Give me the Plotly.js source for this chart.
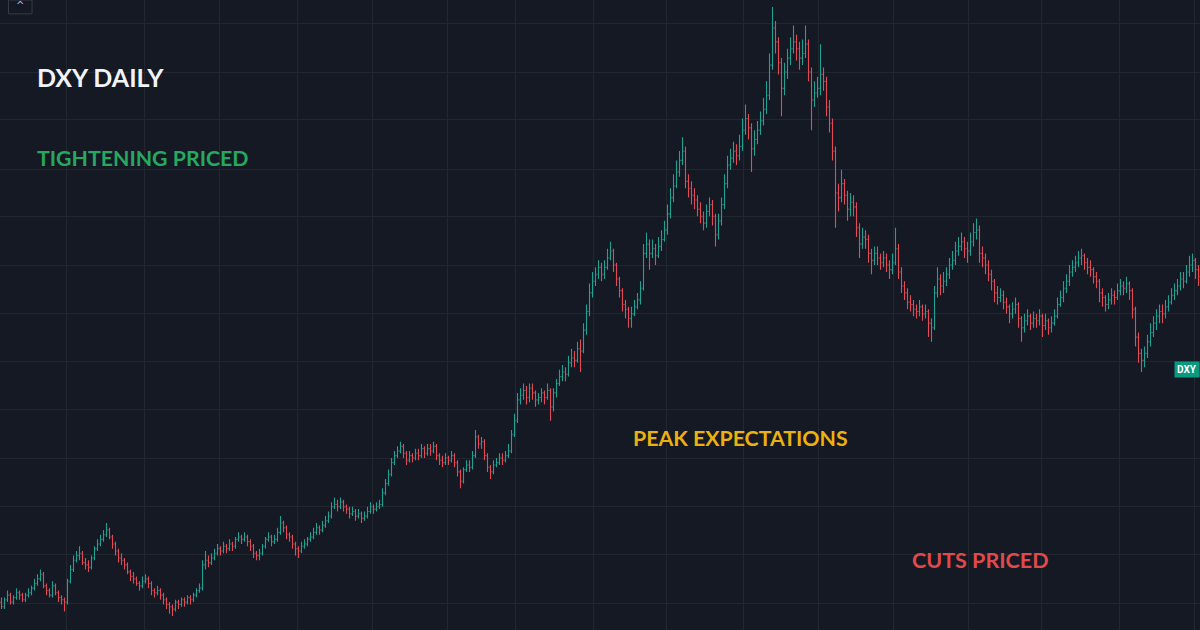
<!DOCTYPE html>
<html>
<head>
<meta charset="utf-8">
<script src="https://cdn.plot.ly/plotly-3.0.1.min.js"></script>
<style>
html,body{margin:0;padding:0;background:#151924;}
#chart{width:1200px;height:630px;}
</style>
</head>
<body>
<div id="chart"></div>
<script>
// DXY daily OHLC
const openPrices = [
89.2,89.0,89.3,89.5,89.2,89.4,89.6,89.5,89.3,89.5,
89.6,89.8,90.0,90.2,90.4,89.9,89.7,89.5,89.9,89.6,
89.4,89.3,89.2,90.1,90.6,91.0,91.2,91.3,90.9,90.8,
90.7,91.1,91.5,91.7,91.9,92.1,92.3,92.0,91.7,91.4,
91.1,91.0,90.8,90.5,90.3,90.2,90.0,89.9,90.1,90.2,
90.0,89.7,89.6,89.7,89.5,89.3,89.1,89.0,88.9,89.2,
89.1,89.3,89.2,89.4,89.3,89.5,89.7,
89.8,90.8,91.0,
90.9,91.1,91.3,91.5,91.4,91.6,91.5,91.7,91.6,91.9,
92.0,91.9,92.0,91.8,91.6,91.3,91.2,91.3,91.6,91.9,
92.0,91.8,91.9,92.2,92.6,92.4,92.1,92.0,91.7,91.5,
91.4,91.6,91.7,91.9,92.0,92.2,92.4,92.3,92.5,92.7,
92.9,93.3,93.4,93.3,93.5,93.3,93.2,93.0,93.1,92.9,
93.0,92.8,92.9,93.1,93.3,93.2,93.3,93.4,93.9,94.3,
94.7,95.2,95.5,95.7,
95.9,95.6,95.3,95.5,95.4,95.6,
95.5,95.8,95.6,95.8,95.7,95.9,95.5,95.3,95.2,95.4,
95.3,95.5,95.2,94.8,94.4,94.9,95.1,95.0,95.5,96.3,
96.0,96.1,95.5,95.0,94.8,95.1,95.2,95.4,95.3,95.5,
95.7,96.4,97.0,97.9,98.1,98.3,98.0,98.4,98.2,97.9,
98.0,98.2,98.0,98.3,97.6,98.2,98.6,98.9,99.1,99.0,
99.5,99.7,99.6,100.1,100.0,100.9,101.7,102.5,103.0,103.3,
103.6,103.3,103.6,104.0,104.3,103.7,103.1,102.6,102.0,101.8,
101.4,101.6,101.9,102.2,102.7,104.2,104.6,104.2,104.4,104.1,
104.5,104.8,105.2,105.9,106.6,107.1,107.7,108.2,108.6,107.3,
107.0,106.7,106.5,106.1,105.8,105.5,106.0,106.3,105.8,105.0,
105.6,106.3,107.2,108.0,108.3,108.6,108.4,108.8,109.5,110.0,
109.6,108.7,109.1,109.5,109.9,110.4,111.0,112.3,113.9,113.3,
112.4,111.3,112.0,112.6,113.0,113.3,113.0,
112.6,112.8,113.2,
112.0,110.8,111.1,111.3,111.9,111.6,110.5,109.8,108.6,106.8,
106.6,107.2,106.7,106.1,106.4,106.2,105.3,104.6,104.9,104.8,
104.2,103.9,104.2,104.0,103.8,104.0,103.7,103.5,103.8,104.4,
103.4,102.8,102.5,102.1,102.0,101.8,101.7,101.9,101.6,101.7,
101.2,101.0,102.5,103.1,102.8,103.0,103.3,103.7,103.9,104.3,
104.5,104.7,104.4,104.3,104.7,105.1,105.2,104.2,104.0,103.7,
103.3,103.0,102.5,102.3,
102.4,102.1,101.9,101.6,101.8,102.0,
101.4,101.0,101.3,101.5,101.2,101.4,101.3,101.5,101.1,101.3,
101.0,101.2,101.5,102.0,102.3,102.7,103.0,103.4,103.6,103.8,
104.0,104.1,103.8,103.6,103.5,103.2,103.0,102.5,102.3,102.0,
102.2,102.4,102.3,102.6,102.8,102.7,102.9,102.6,101.8,100.6,
99.9,99.6,99.9,100.4,100.8,101.2,101.5,101.7,101.6,101.9,
102.1,102.4,102.6,102.8,103.1,103.0,103.4,103.7,103.9,103.5
];
const highPrices = [
89.4,89.4,89.7,89.6,89.5,89.8,89.7,89.6,89.6,89.8,
89.9,90.2,90.4,90.6,90.5,90.0,89.8,90.1,90.0,89.7,
89.5,89.4,90.2,90.8,91.2,91.4,91.6,91.4,91.1,91.0,
91.2,91.6,91.9,92.1,92.3,92.6,92.4,92.1,91.8,91.5,
91.3,91.1,90.9,90.6,90.5,90.3,90.1,90.3,90.4,90.3,
90.1,89.8,89.9,89.8,89.6,89.4,89.2,89.1,89.3,89.3,
89.4,89.4,89.5,89.5,89.6,89.8,90.0,
91.0,91.4,91.2,
91.3,91.5,91.7,91.6,91.8,91.7,91.9,91.8,92.0,92.2,
92.1,92.2,92.1,91.9,91.7,91.4,91.5,91.7,92.0,92.2,
92.1,92.1,92.4,92.9,92.7,92.5,92.2,92.1,91.8,91.6,
91.8,91.9,92.0,92.2,92.4,92.6,92.5,92.7,92.9,93.1,
93.5,93.7,93.6,93.7,93.6,93.4,93.3,93.3,93.2,93.2,
93.1,93.1,93.3,93.5,93.4,93.5,93.6,94.1,94.5,94.9,
95.4,95.7,95.9,96.1,
96.0,95.7,95.7,95.6,95.8,95.8,
96.0,95.9,96.0,96.0,96.1,96.0,95.6,95.5,95.6,95.5,
95.7,95.6,95.3,94.9,95.0,95.3,95.3,95.7,96.6,96.4,
96.3,96.2,95.6,95.1,95.3,95.4,95.6,95.6,95.7,96.0,
96.6,97.3,98.2,98.4,98.6,98.5,98.6,98.6,98.3,98.2,
98.4,98.3,98.6,98.4,98.4,98.8,99.2,99.4,99.3,99.8,
100.1,100.0,100.4,100.5,101.2,102.0,102.9,103.4,103.6,103.9,
103.8,103.9,104.4,104.7,104.4,103.8,103.2,102.7,102.2,101.9,
101.9,102.2,102.5,103.0,104.6,105.1,104.8,104.8,104.6,104.9,
105.2,105.6,106.3,107.0,107.6,108.2,108.6,109.2,108.8,107.6,
107.3,107.0,106.7,106.4,106.0,106.3,106.6,106.5,105.9,105.9,
106.6,107.6,108.4,108.7,109.0,108.9,109.3,110.0,110.6,110.2,
109.8,109.5,109.9,110.3,110.9,111.6,112.8,114.8,114.2,113.5,
112.6,112.4,113.0,113.5,114.0,113.6,113.3,
113.4,114.0,113.4,
112.2,111.6,111.8,113.2,112.2,111.8,110.8,110.0,108.8,107.2,
107.8,107.4,106.9,106.8,106.7,106.4,105.5,105.3,105.2,105.0,
104.4,104.5,104.5,104.2,104.3,104.2,103.9,104.2,105.3,104.6,
103.6,103.0,102.7,102.4,102.2,102.0,102.2,102.0,102.0,101.8,
101.4,102.8,103.6,103.3,103.4,103.6,104.0,104.3,104.7,104.9,
105.1,104.9,104.7,105.1,105.5,105.7,105.4,104.5,104.2,103.9,
103.5,103.1,102.8,102.7,
102.6,102.3,102.0,102.1,102.3,102.1,
101.5,101.6,101.8,101.6,101.7,101.6,101.8,101.6,101.6,101.4,
101.5,101.8,102.3,102.6,103.0,103.3,103.7,103.9,104.1,104.3,
104.4,104.2,104.0,103.9,103.6,103.4,103.1,102.7,102.4,102.5,
102.7,102.6,102.9,103.1,103.0,103.2,103.0,102.7,101.9,100.8,
100.1,100.2,100.7,101.2,101.5,101.8,102.0,102.0,102.2,102.4,
102.7,102.9,103.1,103.4,103.4,103.7,104.1,104.2,104.0,103.7
];
const lowPrices = [
88.9,88.9,89.2,89.1,89.1,89.3,89.3,89.2,89.2,89.4,
89.5,89.7,89.9,90.1,89.8,89.5,89.4,89.4,89.5,89.2,
89.1,88.8,89.1,90.0,90.5,90.9,91.0,90.8,90.6,90.5,
90.6,91.0,91.4,91.6,91.8,92.0,91.9,91.5,91.2,90.9,
90.8,90.6,90.4,90.1,90.0,89.9,89.7,89.8,90.0,89.8,
89.5,89.4,89.5,89.3,89.1,88.9,88.7,88.6,88.8,88.9,
89.0,89.0,89.1,89.1,89.2,89.4,89.6,
89.7,90.6,90.7,
90.8,91.0,91.2,91.2,91.3,91.3,91.4,91.4,91.5,91.8,
91.7,91.8,91.6,91.4,91.1,91.0,91.0,91.2,91.5,91.8,
91.6,91.7,91.8,92.1,92.2,91.9,91.8,91.5,91.2,91.1,
91.3,91.5,91.6,91.8,91.9,92.1,92.1,92.2,92.4,92.6,
92.8,93.2,93.1,93.2,93.1,93.0,92.8,92.9,92.7,92.8,
92.6,92.7,92.8,93.0,93.0,93.1,93.2,93.3,93.8,94.2,
94.6,95.1,95.4,95.6,
95.4,95.1,95.2,95.2,95.3,95.3,
95.4,95.4,95.5,95.5,95.6,95.3,95.1,95.0,95.1,95.1,
95.2,95.0,94.6,94.1,94.3,94.8,94.8,94.9,95.4,95.8,
95.8,95.3,94.8,94.5,94.7,95.0,95.1,95.1,95.2,95.4,
95.6,96.3,96.9,97.7,97.9,97.7,97.8,97.9,97.6,97.7,
97.8,97.7,97.9,97.0,97.4,98.0,98.5,98.7,98.7,98.9,
99.3,99.3,99.5,99.1,99.9,100.7,101.5,102.3,102.8,103.1,
103.0,103.1,103.5,103.9,103.4,102.8,102.3,101.7,101.4,101.0,
101.0,101.5,101.8,102.0,102.6,104.0,103.5,104.0,103.7,104.0,
104.3,104.7,105.0,105.7,106.4,107.0,107.5,108.0,107.0,106.6,
106.3,106.1,105.8,105.5,105.2,105.3,105.8,105.4,104.5,104.8,
105.4,106.1,107.0,107.8,108.1,108.0,108.2,108.6,109.3,109.1,
107.7,108.4,108.9,109.3,109.7,110.2,110.8,112.1,112.8,111.9,
110.1,111.0,111.7,112.3,112.8,112.5,112.1,
112.3,112.6,111.6,
109.5,110.5,110.9,111.0,111.2,110.1,109.4,108.2,105.3,106.0,
106.4,106.3,105.6,105.8,105.8,104.9,104.0,104.4,104.4,103.8,
103.3,103.7,103.7,103.5,103.6,103.4,103.1,103.3,103.7,103.1,
102.5,102.2,101.8,101.7,101.5,101.4,101.5,101.3,101.4,100.6,
100.4,100.9,102.3,102.4,102.5,102.8,103.1,103.5,103.7,104.1,
104.3,104.0,103.8,104.1,104.5,104.8,103.8,103.6,103.3,103.0,
102.6,102.1,102.0,102.1,
101.8,101.6,101.2,101.4,101.6,101.0,
100.4,100.8,101.1,100.9,101.0,101.0,101.1,100.6,100.9,100.7,
100.8,101.1,101.4,101.9,102.1,102.5,102.8,103.2,103.4,103.6,
103.7,103.5,103.3,103.2,102.9,102.7,102.1,101.9,101.7,101.8,
102.0,102.0,102.2,102.4,102.4,102.5,102.2,101.4,100.2,99.5,
99.1,99.3,99.7,100.2,100.6,100.9,101.2,101.2,101.4,101.7,
102.0,102.2,102.4,102.6,102.7,102.9,103.2,103.4,103.1,102.8
];
const closePrices = [
89.0,89.3,89.5,89.2,89.4,89.6,89.5,89.3,89.5,89.6,
89.8,90.0,90.2,90.4,89.9,89.7,89.5,89.9,89.6,89.4,
89.3,89.2,90.1,90.6,91.0,91.2,91.3,90.9,90.8,90.7,
91.1,91.5,91.7,91.9,92.1,92.3,92.0,91.7,91.4,91.1,
91.0,90.8,90.5,90.3,90.2,90.0,89.9,90.1,90.2,90.0,
89.7,89.6,89.7,89.5,89.3,89.1,89.0,88.9,89.2,89.1,
89.3,89.2,89.4,89.3,89.5,89.7,89.8,
90.8,91.0,90.9,
91.1,91.3,91.5,91.4,91.6,91.5,91.7,91.6,91.9,92.0,
91.9,92.0,91.8,91.6,91.3,91.2,91.3,91.6,91.9,92.0,
91.8,91.9,92.2,92.6,92.4,92.1,92.0,91.7,91.5,91.4,
91.6,91.7,91.9,92.0,92.2,92.4,92.3,92.5,92.7,92.9,
93.3,93.4,93.3,93.5,93.3,93.2,93.0,93.1,92.9,93.0,
92.8,92.9,93.1,93.3,93.2,93.3,93.4,93.9,94.3,94.7,
95.2,95.5,95.7,95.9,
95.6,95.3,95.5,95.4,95.6,95.5,
95.8,95.6,95.8,95.7,95.9,95.5,95.3,95.2,95.4,95.3,
95.5,95.2,94.8,94.4,94.9,95.1,95.0,95.5,96.3,96.0,
96.1,95.5,95.0,94.8,95.1,95.2,95.4,95.3,95.5,95.7,
96.4,97.0,97.9,98.1,98.3,98.0,98.4,98.2,97.9,98.0,
98.2,98.0,98.3,97.6,98.2,98.6,98.9,99.1,99.0,99.5,
99.7,99.6,100.1,100.0,100.9,101.7,102.5,103.0,103.3,103.6,
103.3,103.6,104.0,104.3,103.7,103.1,102.6,102.0,101.8,101.4,
101.6,101.9,102.2,102.7,104.2,104.6,104.2,104.4,104.1,104.5,
104.8,105.2,105.9,106.6,107.1,107.7,108.2,108.6,107.3,107.0,
106.7,106.5,106.1,105.8,105.5,106.0,106.3,105.8,105.0,105.6,
106.3,107.2,108.0,108.3,108.6,108.4,108.8,109.5,110.0,109.6,
108.7,109.1,109.5,109.9,110.4,111.0,112.3,113.9,113.3,112.4,
111.3,112.0,112.6,113.0,113.3,113.0,112.6,
112.8,113.2,112.0,
110.8,111.1,111.3,111.9,111.6,110.5,109.8,108.6,106.8,106.6,
107.2,106.7,106.1,106.4,106.2,105.3,104.6,104.9,104.8,104.2,
103.9,104.2,104.0,103.8,104.0,103.7,103.5,103.8,104.4,103.4,
102.8,102.5,102.1,102.0,101.8,101.7,101.9,101.6,101.7,101.2,
101.0,102.5,103.1,102.8,103.0,103.3,103.7,103.9,104.3,104.5,
104.7,104.4,104.3,104.7,105.1,105.2,104.2,104.0,103.7,103.3,
103.0,102.5,102.3,102.4,
102.1,101.9,101.6,101.8,102.0,101.4,
101.0,101.3,101.5,101.2,101.4,101.3,101.5,101.1,101.3,101.0,
101.2,101.5,102.0,102.3,102.7,103.0,103.4,103.6,103.8,104.0,
104.1,103.8,103.6,103.5,103.2,103.0,102.5,102.3,102.0,102.2,
102.4,102.3,102.6,102.8,102.7,102.9,102.6,101.8,100.6,99.9,
99.6,99.9,100.4,100.8,101.2,101.5,101.7,101.6,101.9,102.1,
102.4,102.6,102.8,103.1,103.0,103.4,103.7,103.9,103.5,103.2
];
const barIndex = closePrices.map((_, i) => i);

const titleText = 'DXY DAILY';
const phaseLabels = ['TIGHTENING PRICED', 'PEAK EXPECTATIONS', 'CUTS PRICED'];
const symbolLabel = 'DXY';

const trace = {
  type: 'ohlc',
  x: barIndex,
  open: openPrices,
  high: highPrices,
  low: lowPrices,
  close: closePrices,
  increasing: {line: {color: '#22a091', width: 1.1}},
  decreasing: {line: {color: '#e04b55', width: 1.1}},
  tickwidth: 0.35,
  hoverinfo: 'skip'
};

const gridColor = '#22262f';
const fontFam = 'Lato, "Open Sans", sans-serif';

const annotations = [
  {text: titleText, xref: 'paper', yref: 'paper', x: 0.029, y: 0.878, xanchor: 'left', yanchor: 'middle', showarrow: false,
   font: {family: fontFam, size: 25, color: '#f0f3fa', weight: 700}},
  {text: phaseLabels[0], xref: 'paper', yref: 'paper', x: 0.029, y: 0.749, xanchor: 'left', yanchor: 'middle', showarrow: false,
   font: {family: fontFam, size: 21.3, color: '#26a85f', weight: 700}},
  {text: phaseLabels[1], xref: 'paper', yref: 'paper', x: 0.526, y: 0.305, xanchor: 'left', yanchor: 'middle', showarrow: false,
   font: {family: fontFam, size: 21.3, color: '#ebb10e', weight: 700}},
  {text: phaseLabels[2], xref: 'paper', yref: 'paper', x: 0.758, y: 0.111, xanchor: 'left', yanchor: 'middle', showarrow: false,
   font: {family: fontFam, size: 21.5, color: '#e04a4b', weight: 700}},
  {text: symbolLabel, xref: 'paper', yref: 'paper', x: 1.0, y: 0.4127, xanchor: 'right', yanchor: 'middle', showarrow: false,
   bgcolor: '#089981', borderpad: 2,
   font: {family: 'Roboto, sans-serif', size: 10, color: '#ffffff', weight: 700}},
  {text: '^', xref: 'paper', yref: 'paper', x: 0.0167, y: 0.992, xanchor: 'center', yanchor: 'middle', showarrow: false,
   font: {family: 'DejaVu Sans, sans-serif', size: 10, color: '#b2b5be'}}
];

const layout = {
  width: 1200,
  height: 630,
  margin: {l: 0, r: 0, t: 0, b: 0, pad: 0},
  paper_bgcolor: '#151924',
  plot_bgcolor: '#151924',
  showlegend: false,
  xaxis: {
    range: [-0.5, 399.5],
    rangeslider: {visible: false},
    tickvals: [21.8, 47.8, 72.5, 98.5, 123.5, 148.5, 171.2, 197.2, 221.8, 247.2, 272.2, 297.2, 322.2, 346.8, 372.8, 397.8],
    showticklabels: false, ticks: '', showgrid: true, gridcolor: gridColor, gridwidth: 1,
    zeroline: false, showline: false, fixedrange: true
  },
  yaxis: {
    range: [88.0, 115.1],
    tickvals: [114.11, 112.0, 109.94, 107.83, 105.77, 103.66, 101.6, 99.53, 97.47, 95.36, 93.3, 91.24, 89.13],
    showticklabels: false, ticks: '', showgrid: true, gridcolor: gridColor, gridwidth: 1,
    zeroline: false, showline: false, fixedrange: true
  },
  shapes: [
    {type: 'rect', xref: 'paper', yref: 'paper', x0: 0.0071, x1: 0.0267, y0: 0.978, y1: 1.0,
     line: {color: '#363a45', width: 1}, fillcolor: 'rgba(0,0,0,0)'}
  ],
  annotations: annotations
};

Plotly.newPlot('chart', [trace], layout, {staticPlot: true, displayModeBar: false});
</script>
</body>
</html>
